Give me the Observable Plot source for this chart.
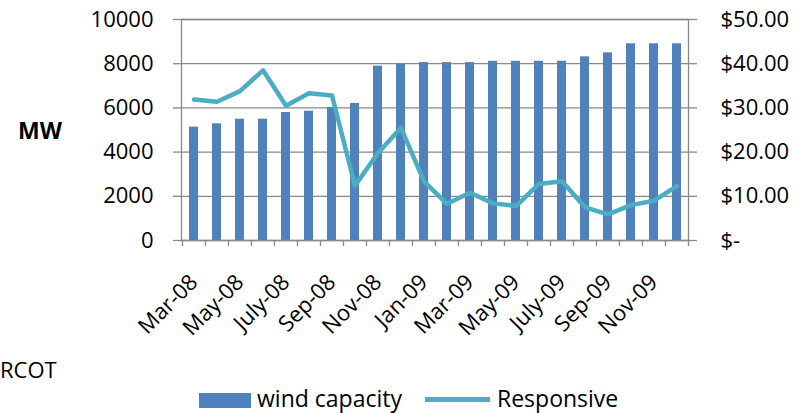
<!DOCTYPE html>
<html>
<head>
<meta charset="utf-8">
<script src="https://cdn.jsdelivr.net/npm/d3@7"></script>
<script src="https://cdn.jsdelivr.net/npm/@observablehq/plot@0.6"></script>
<style>
  html, body { margin: 0; padding: 0; background: #fff; }
  #wrap { position: relative; width: 808px; height: 413px; font-family: "Open Sans", sans-serif; font-size: 22px; color: #000; overflow: hidden; }
  #chart { position: absolute; left: 0; top: 0; }
  .lbl { position: absolute; line-height: 22px; white-space: nowrap; }
  .leg { font-size: 23px; line-height: 23px; }
  .sw { position: absolute; }
</style>
</head>
<body>
<div id="wrap">
  <div id="chart"></div>
  <div class="lbl" style="left:18px; top:119px; font-weight:bold; font-size:23px;">MW</div>
  <div class="lbl" style="left:0px; top:358px;">RCOT</div>
  <div class="sw" style="left:199px; top:393px; width:52px; height:15px; background:#4f81bd;"></div>
  <div class="lbl leg" style="left:257px; top:387px;">wind capacity</div>
  <div class="sw" style="left:425px; top:397px; width:65px; height:5px; background:#4bacc6;"></div>
  <div class="lbl leg" style="left:497px; top:387px;">Responsive</div>
</div>
<script>
const months = ["Mar-08","Apr-08","May-08","Jun-08","July-08","Aug-08","Sep-08","Oct-08","Nov-08","Dec-08","Jan-09","Feb-09","Mar-09","Apr-09","May-09","Jun-09","July-09","Aug-09","Sep-09","Oct-09","Nov-09","Dec-09"];
const windCapacity = [5130,5280,5490,5490,5790,5850,6020,6200,7890,7990,8050,8050,8050,8110,8110,8110,8110,8310,8490,8900,8900,8900];
const responsive = [31.9,31.4,33.8,38.5,30.5,33.3,32.8,12.4,19.8,25.5,13.4,8.3,10.8,8.4,7.8,12.8,13.4,7.5,5.9,8.0,9.0,12.3];
const xTickLabels = ["Mar-08","May-08","July-08","Sep-08","Nov-08","Jan-09","Mar-09","May-09","July-09","Sep-09","Nov-09"];
const leftTicks = [0,2000,4000,6000,8000,10000];
const rightTicks = [0,10,20,30,40,50];

const leftMax = 10000, rightMax = 50;
const k = leftMax / rightMax;
const data = months.map((m, i) => ({month: m, wind: windCapacity[i], resp: responsive[i]}));

const W = 808, H = 350, mL = 181, mR = 120, mT = 19, mB = 110;
const step = (W - mL - mR) / months.length;
const frameH = H - mT - mB;
const grid = "#898989";

const chart = Plot.plot({
  width: W, height: H,
  marginLeft: mL, marginRight: mR, marginTop: mT, marginBottom: mB,
  style: {fontFamily: "'Open Sans', sans-serif", fontSize: "22px", color: "#000", background: "#fff"},
  x: {type: "band", domain: months, paddingInner: 0.61, paddingOuter: 0.305, axis: null},
  y: {domain: [0, leftMax], axis: null},
  marks: [
    Plot.gridY(leftTicks, {stroke: grid, strokeOpacity: 1, strokeWidth: 1.3}),
    Plot.frame({stroke: grid, strokeWidth: 1.3}),
    Plot.ruleX(months, {x: d => d, dx: -step / 2, stroke: grid, strokeWidth: 1.3, insetTop: frameH, insetBottom: -6}),
    Plot.ruleX([months[months.length - 1]], {x: d => d, dx: step / 2, stroke: grid, strokeWidth: 1.3, insetTop: frameH, insetBottom: -6}),
    Plot.axisY(leftTicks, {anchor: "left", tickSize: 8, tickPadding: 20, stroke: grid, strokeWidth: 1.3, fill: "#000", tickFormat: d => String(d), label: null}),
    Plot.axisY(rightTicks.map(v => v * k), {anchor: "right", tickSize: 8, tickPadding: 24, stroke: grid, strokeWidth: 1.3, fill: "#000", textAnchor: "start",
      tickFormat: d => d === 0 ? "$-" : "$" + (d / k).toFixed(2), label: null}),
    Plot.barY(data, {x: "month", y: "wind", fill: "#4f81bd"}),
    Plot.lineY(data, {x: "month", y: d => d.resp * k, stroke: "#4bacc6", strokeWidth: 4.5, strokeLinejoin: "round"}),
    Plot.text(xTickLabels, {x: d => d, frameAnchor: "bottom", rotate: -45, textAnchor: "end", lineAnchor: "bottom", dx: 5, dy: 43, fill: "#000"})
  ]
});
document.getElementById("chart").appendChild(chart);
</script>
</body>
</html>
